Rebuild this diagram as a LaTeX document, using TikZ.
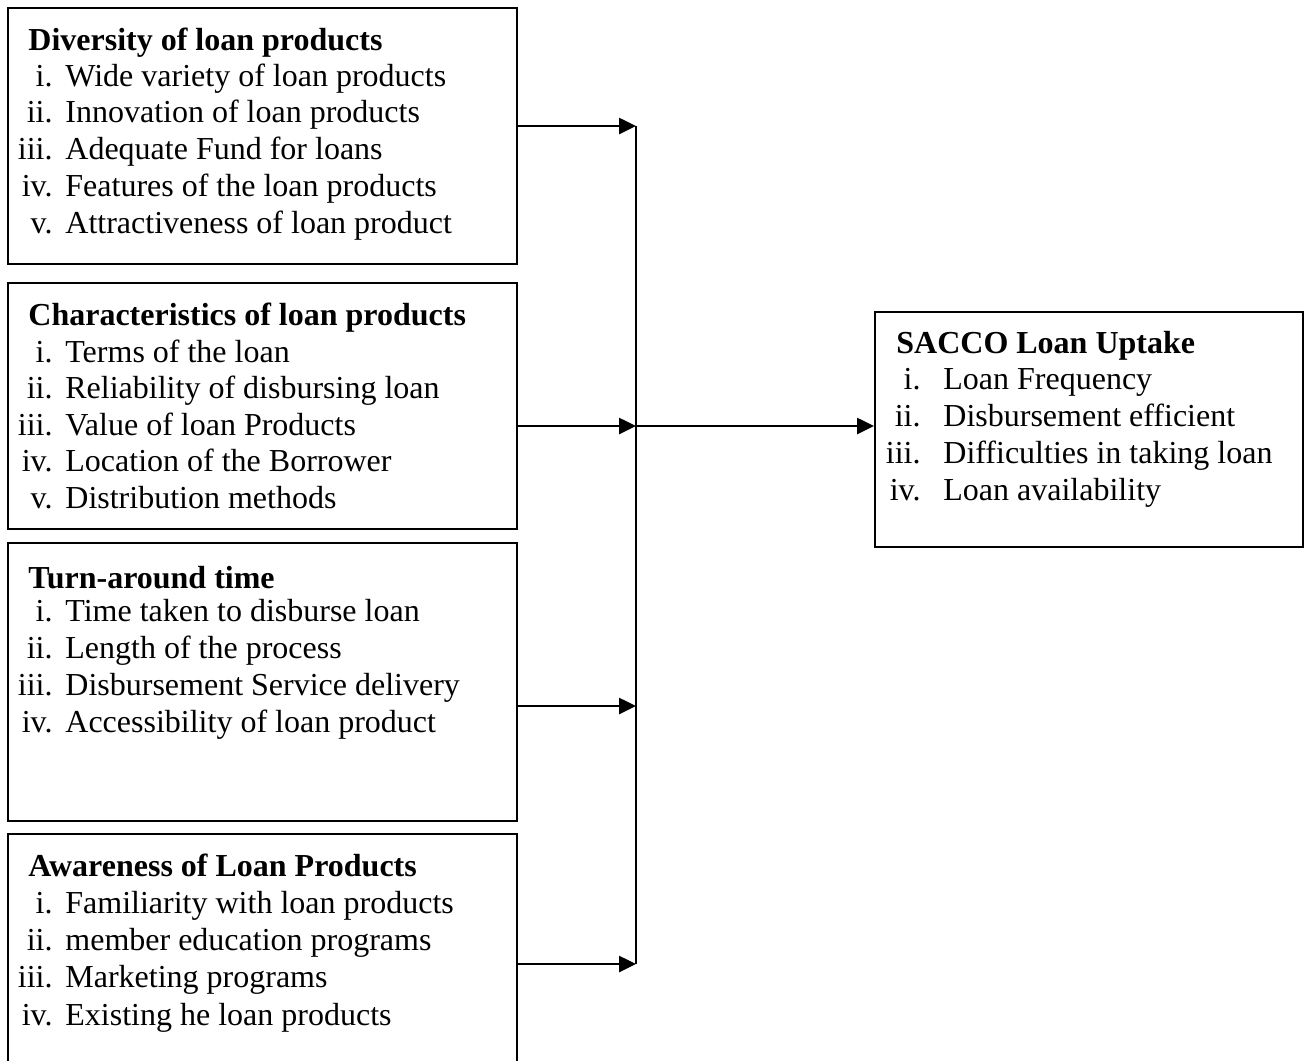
\documentclass[tikz,border=0pt]{standalone}
\usepackage{fontspec}
\setmainfont{Liberation Serif}
\usetikzlibrary{arrows.meta}
\newcommand\lrow[6]{%
  \node[num] (#1a) at (#2,#4) {#5};
  \node[itm] (#1b) at (#3,#4) {#6};}
\begin{document}
\begin{tikzpicture}[x=0.5pt,y=-0.5pt,
  box/.style={draw, line width=1pt, rectangle, inner sep=0pt},
  txt/.style={inner sep=0pt, font=\fontsize{16}{19}\selectfont},
  head/.style={inner sep=0pt, anchor=base west, font=\fontsize{16}{19}\selectfont\bfseries},
  num/.style={txt, anchor=base east},
  itm/.style={txt, anchor=base west},
  arr/.style={line width=1.3pt, -{Triangle[length=8.5pt,width=8pt]}},
  conn/.style={line width=1.3pt}]
\useasboundingbox (0,0) rectangle (1308,1061);
\begin{scope}
\clip (0,0) rectangle (1308,1061);
% boxes
\node[box, minimum width=254.5pt, minimum height=128pt] (b1) at (262.5,136) {};
\node[box, minimum width=254.5pt, minimum height=123pt] (b2) at (262.5,406) {};
\node[box, minimum width=254.5pt, minimum height=139pt] (b3) at (262.5,682) {};
\node[box, minimum width=254.5pt, minimum height=120.5pt] (b4) at (262.5,954.5) {};
\node[box, minimum width=214pt, minimum height=117.5pt] (out) at (1089,429.5) {};
% box 1
\node[head] (h1) at (28,50) {Diversity of loan products};
\lrow{p1i}{53}{65}{86}{i.}{Wide variety of loan products}
\lrow{p1ii}{53}{65}{122.9}{ii.}{Innovation of loan products}
\lrow{p1iii}{53}{65}{159.8}{iii.}{Adequate Fund for loans}
\lrow{p1iv}{53}{65}{196.7}{iv.}{Features of the loan products}
\lrow{p1v}{53}{65}{233.6}{v.}{Attractiveness of loan product}
% box 2
\node[head] (h2) at (28,325) {Characteristics of loan products};
\lrow{p2i}{53}{65}{362}{i.}{Terms of the loan}
\lrow{p2ii}{53}{65}{398.6}{ii.}{Reliability of disbursing loan}
\lrow{p2iii}{53}{65}{435.2}{iii.}{Value of loan Products}
\lrow{p2iv}{53}{65}{471.8}{iv.}{Location of the Borrower}
\lrow{p2v}{53}{65}{508.4}{v.}{Distribution methods}
% box 3
\node[head] (h3) at (28,588) {Turn-around time};
\lrow{p3i}{53}{65}{621}{i.}{Time taken to disburse loan}
\lrow{p3ii}{53}{65}{658.2}{ii.}{Length of the process}
\lrow{p3iii}{53}{65}{695.4}{iii.}{Disbursement Service delivery}
\lrow{p3iv}{53}{65}{732.6}{iv.}{Accessibility of loan product}
% box 4
\node[head] (h4) at (28,876) {Awareness of Loan Products};
\lrow{p4i}{53}{65}{913.3}{i.}{Familiarity with loan products}
\lrow{p4ii}{53}{65}{950.6}{ii.}{member education programs}
\lrow{p4iii}{53}{65}{987.9}{iii.}{Marketing programs}
\lrow{p4iv}{53}{65}{1025.2}{iv.}{Existing he loan products}
% output box
\node[head] (h5) at (896,353) {SACCO Loan Uptake};
\lrow{p5i}{921}{943}{389.7}{i.}{Loan Frequency}
\lrow{p5ii}{921}{943}{426.6}{ii.}{Disbursement efficient}
\lrow{p5iii}{921}{943}{463.5}{iii.}{Difficulties in taking loan}
\lrow{p5iv}{921}{943}{500.4}{iv.}{Loan availability}
% connectors
\coordinate (j1) at (636,126);
\coordinate (j2) at (636,426);
\coordinate (j3) at (636,706);
\coordinate (j4) at (636,964);
\draw[conn] (j1) -- (j4);
\draw[arr] (b1.east |- j1) -- (j1);
\draw[arr] (b2.east |- j2) -- (j2);
\draw[arr] (b3.east |- j3) -- (j3);
\draw[arr] (b4.east |- j4) -- (j4);
\draw[arr] (j2) -- (out.west |- j2);
\end{scope}
\end{tikzpicture}
\end{document}
